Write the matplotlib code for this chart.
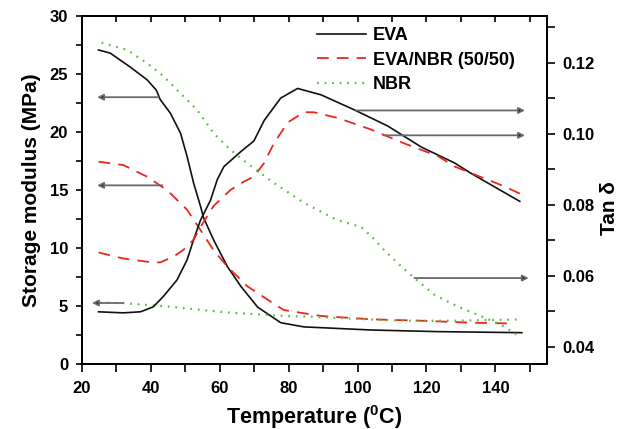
import matplotlib
matplotlib.use("Agg")
import matplotlib.pyplot as plt
from matplotlib.ticker import MultipleLocator

plt.rcParams['font.family'] = ['Liberation Sans', 'DejaVu Sans']
plt.rcParams['font.weight'] = 'bold'
plt.rcParams['mathtext.fontset'] = 'custom'
plt.rcParams['mathtext.bf'] = 'Liberation Sans:bold'
plt.rcParams['mathtext.rm'] = 'Liberation Sans:bold'

# storage modulus (MPa), left axis
eva_e_t = [24.8, 28.2, 34.0, 38.9, 41.6, 42.7, 45.7, 48.6, 50.5, 52.4, 53.4, 54.4, 55.3,
           58.2, 62.2, 66.1, 71.0, 77.7, 84.4, 104.0, 123.4, 147.7]
eva_e = [27.07, 26.8, 25.6, 24.5, 23.6, 22.8, 21.6, 19.9, 17.9, 15.6, 14.6, 13.6, 12.6,
         10.7, 8.4, 6.7, 4.9, 3.56, 3.2, 2.93, 2.79, 2.7]

blend_e_t = [24.8, 32.0, 38.9, 43.6, 45.7, 50.5, 54.4, 58.2, 62.2, 68.0, 74.8, 78.6,
             89.4, 104.0, 118.5, 133.0, 143.8]
blend_e = [17.44, 17.15, 16.15, 15.2, 14.7, 13.3, 11.55, 9.8, 8.4, 6.7, 5.37, 4.65,
           4.14, 3.85, 3.73, 3.56, 3.5]

nbr_e_t = [25.2, 32.0, 38.9, 45.7, 53.4, 63.1, 74.8, 78.6, 86.5, 99.0, 113.6, 128.2, 147.7]
nbr_e = [5.28, 5.25, 5.09, 4.94, 4.7, 4.42, 4.22, 4.14, 4.08, 3.9, 3.73, 3.73, 3.85]

# tan delta, right axis
eva_tan_t = [24.8, 32.0, 37.0, 40.7, 43.6, 47.6, 50.5, 52.4, 54.4, 57.3, 59.3, 61.2,
             66.1, 69.9, 72.9, 77.7, 82.6, 89.4, 99.0, 108.8, 118.5, 128.2, 133.1, 147.1]
eva_tan = [0.0499, 0.0496, 0.0499, 0.0513, 0.0542, 0.0589, 0.0645, 0.0702, 0.0757, 0.0813,
           0.0872, 0.0908, 0.0950, 0.0980, 0.1038, 0.1101, 0.1128, 0.1110, 0.1068, 0.1022,
           0.0963, 0.0918, 0.0888, 0.0810]

blend_tan_t = [24.8, 32.0, 38.9, 42.7, 46.5, 49.4, 52.4, 54.4, 58.2, 63.1, 66.9, 69.9,
               72.8, 75.7, 79.7, 84.4, 87.3, 94.2, 104.0, 113.6, 123.4, 128.2, 141.9, 147.1]
blend_tan = [0.0666, 0.0649, 0.0640, 0.0638, 0.0654, 0.0673, 0.0702, 0.0738, 0.0797, 0.0842,
             0.0865, 0.0880, 0.0917, 0.0973, 0.1032, 0.1061, 0.1061, 0.1045, 0.1012, 0.0973,
             0.0937, 0.0908, 0.0855, 0.0832]

nbr_tan_t = [25.7, 33.0, 38.9, 43.6, 48.6, 53.4, 58.2, 63.1, 68.0, 75.7, 84.4, 94.2, 101.0,
             104.0, 107.8, 112.7, 116.5, 122.3, 129.0, 135.0, 141.8, 147.1]
nbr_tan = [0.1257, 0.1237, 0.1199, 0.1163, 0.1114, 0.1068, 0.1002, 0.0955, 0.0917, 0.0862,
           0.0806, 0.0757, 0.0738, 0.0712, 0.0672, 0.0627, 0.0594, 0.0547, 0.0514, 0.0490,
           0.0462, 0.0429]

# arrows: (y, tail x, head x)
left_arrows = [(23.0, 42.2, 24.4), (15.4, 43.3, 24.4), (5.26, 32.0, 22.9)]
right_arrows = [(0.1066, 99.6, 148.6), (0.0996, 107.5, 148.6), (0.0594, 116.5, 149.7)]

black = '#111111'
red = '#e8281e'
green = '#58c040'

fig = plt.figure(figsize=(6.21, 4.29), dpi=100)
ax = fig.add_axes([82 / 621, 1 - 364 / 429, 465 / 621, 348 / 429])
ax2 = ax.twinx()

l1, = ax.plot(eva_e_t, eva_e, color=black, lw=1.2, label='EVA')
l2, = ax.plot(blend_e_t, blend_e, color=red, lw=1.3, dashes=(6.5, 4.5), label='EVA/NBR (50/50)')
l3, = ax.plot(nbr_e_t, nbr_e, color=green, lw=1.6, dashes=(0.8, 2.6), label='NBR')
ax2.plot(eva_tan_t, eva_tan, color=black, lw=1.2)
ax2.plot(blend_tan_t, blend_tan, color=red, lw=1.3, dashes=(6.5, 4.5))
ax2.plot(nbr_tan_t, nbr_tan, color=green, lw=1.6, dashes=(0.8, 2.6))

arrow_style = dict(arrowstyle='-|>', ec='#6a6a6a', fc='#111111', lw=1.3, mutation_scale=9,
                   shrinkA=0, shrinkB=0)
for y, x0, x1 in left_arrows:
    ax.annotate('', xy=(x1, y), xytext=(x0, y), arrowprops=arrow_style)
for y, x0, x1 in right_arrows:
    ax2.annotate('', xy=(x1, y), xytext=(x0, y), arrowprops=arrow_style)

ax.set_xlim(20, 155)
ax.set_ylim(0, 30)
ax2.set_ylim(0.0352, 0.1332)

ax.xaxis.set_major_locator(MultipleLocator(20))
ax.xaxis.set_minor_locator(MultipleLocator(10))
ax.yaxis.set_major_locator(MultipleLocator(5))
ax.yaxis.set_minor_locator(MultipleLocator(2.5))
ax2.yaxis.set_major_locator(MultipleLocator(0.02))
ax2.yaxis.set_minor_locator(MultipleLocator(0.01))

for a in (ax, ax2):
    for s in a.spines.values():
        s.set_linewidth(1.4)
ax.tick_params(axis='x', which='both', direction='out', length=6, width=1.2,
               labelsize=12, top=True, pad=6)
ax.tick_params(axis='y', which='both', direction='out', length=4, width=1.2,
               labelsize=12, right=False, pad=6)
ax2.tick_params(axis='y', which='both', direction='out', length=6, width=1.2,
                labelsize=12, pad=5)
# top ticks point inward
for t in ax.xaxis.get_major_ticks() + ax.xaxis.get_minor_ticks():
    t.tick2line.set_marker(3)
    t.tick2line.set_markersize(4)
ax.set_xticks([20, 40, 60, 80, 100, 120, 140])
ax2.set_yticks([0.04, 0.06, 0.08, 0.10, 0.12])
ax2.set_yticklabels(['0.04', '0.06', '0.08', '0.10', '0.12'])

ax.set_xlabel(r'Temperature ($^{0}$C)', fontsize=15.5, fontweight='bold', labelpad=5)
ax.set_ylabel('Storage modulus (MPa)', fontsize=15, fontweight='bold', labelpad=6)
fig.text(600 / 621, 1 - 208 / 429, 'Tan δ', rotation=90, fontsize=15, fontweight='bold',
         ha='left', va='center')

ax.legend(handles=[l1, l2, l3], loc='upper left', bbox_to_anchor=(317 / 621, 1 - 27 / 429),
          bbox_transform=fig.transFigure, frameon=False, borderpad=0, borderaxespad=0,
          handlelength=2.7, handletextpad=0.4, labelspacing=0.42,
          prop={'size': 13, 'weight': 'bold'})

fig.savefig('out.png', dpi=100)
